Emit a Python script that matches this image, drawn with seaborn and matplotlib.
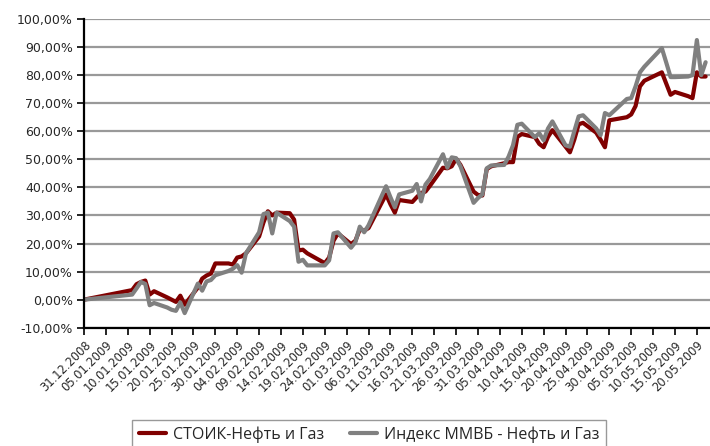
import pandas as pd
import numpy as np
import matplotlib
matplotlib.use("Agg")
import matplotlib.pyplot as plt
import matplotlib.ticker as mticker
import seaborn as sns

# data (cumulative return, %)
dates = ["31.12.2008",
         "11.01.2009", "12.01.2009", "13.01.2009", "14.01.2009", "15.01.2009", "16.01.2009",
         "19.01.2009", "20.01.2009", "21.01.2009", "22.01.2009", "23.01.2009",
         "26.01.2009", "27.01.2009", "28.01.2009", "29.01.2009", "30.01.2009",
         "02.02.2009", "03.02.2009", "04.02.2009", "05.02.2009", "06.02.2009",
         "09.02.2009", "10.02.2009", "11.02.2009", "12.02.2009", "13.02.2009",
         "16.02.2009", "17.02.2009", "18.02.2009", "19.02.2009", "20.02.2009",
         "24.02.2009", "25.02.2009", "26.02.2009", "27.02.2009",
         "02.03.2009", "03.03.2009", "04.03.2009", "05.03.2009", "06.03.2009",
         "10.03.2009", "11.03.2009", "12.03.2009", "13.03.2009",
         "16.03.2009", "17.03.2009", "18.03.2009", "19.03.2009", "20.03.2009",
         "23.03.2009", "24.03.2009", "25.03.2009", "26.03.2009", "27.03.2009",
         "30.03.2009", "31.03.2009", "01.04.2009", "02.04.2009", "03.04.2009",
         "06.04.2009", "07.04.2009", "08.04.2009", "09.04.2009", "10.04.2009",
         "13.04.2009", "14.04.2009", "15.04.2009", "16.04.2009", "17.04.2009",
         "20.04.2009", "21.04.2009", "22.04.2009", "23.04.2009", "24.04.2009",
         "27.04.2009", "28.04.2009", "29.04.2009", "30.04.2009",
         "04.05.2009", "05.05.2009", "06.05.2009", "07.05.2009", "08.05.2009",
         "12.05.2009", "13.05.2009", "14.05.2009", "15.05.2009",
         "18.05.2009", "19.05.2009", "20.05.2009", "21.05.2009", "22.05.2009"]

stoik = [0.0,
         3.4, 5.5, 6.3, 6.8, 1.8, 3.0,
         0.8, 0.0, -0.8, 1.4, -1.8,
         4.3, 7.5, 8.6, 9.3, 12.9,
         12.9, 12.5, 15.0, 15.4, 16.5,
         22.5, 27.5, 31.5, 30.0, 31.0,
         30.8, 28.5, 17.5, 17.8, 16.5,
         13.0, 15.0, 21.0, 23.6,
         19.8, 21.0, 25.0, 24.6, 25.5,
         37.5, 34.0, 31.0, 35.5,
         34.8, 36.5, 38.0, 38.5, 40.5,
         47.0, 46.8, 47.5, 50.2, 48.0,
         38.5, 37.3, 37.1, 46.5, 47.5,
         48.6, 49.0, 49.0, 58.0, 59.0,
         57.9, 55.5, 54.3, 58.0, 60.4,
         54.5, 52.5, 57.0, 62.5, 63.0,
         59.5, 57.0, 54.3, 63.9,
         65.0, 66.0, 69.0, 76.0, 78.0,
         81.0, 77.0, 73.0, 74.0,
         72.5, 71.8, 81.0, 79.5, 79.5]

micex = [0.0,
         1.8, 4.0, 6.3, 5.6, -2.0, -1.2,
         -2.8, -3.6, -4.0, -1.0, -4.8,
         5.7, 3.2, 6.5, 7.0, 8.7,
         10.2, 11.0, 12.3, 9.6, 16.5,
         24.0, 30.5, 31.0, 23.6, 31.0,
         28.0, 26.0, 13.5, 14.2, 12.2,
         12.2, 14.0, 23.6, 24.0,
         18.5, 20.5, 26.0, 24.0, 26.5,
         40.4, 36.5, 32.9, 37.5,
         38.8, 41.2, 35.0, 41.0, 43.0,
         51.8, 47.0, 50.7, 50.4, 47.5,
         34.5, 36.2, 37.5, 46.8, 47.8,
         48.0, 51.0, 55.0, 62.3, 62.7,
         57.9, 59.3, 56.8, 61.0, 63.5,
         55.0, 54.5, 60.0, 65.3, 65.7,
         61.0, 58.6, 66.5, 65.7,
         71.5, 71.8, 76.0, 81.0, 83.0,
         89.6, 84.5, 79.3, 79.3,
         79.5, 80.0, 92.5, 80.0, 84.6]

series_names = ["СТОИК-Нефть и Газ", "Индекс ММВБ - Нефть и Газ"]
RED = "#800000"
GREY = "#808080"

df = pd.DataFrame({"Date": pd.to_datetime(dates, format="%d.%m.%Y"),
                   series_names[0]: stoik,
                   series_names[1]: micex})
long = df.melt(id_vars="Date", var_name="Series", value_name="Return")

sns.set_theme(style="white")
plt.rcParams["font.family"] = ["DejaVu Sans"]

fig = plt.figure(figsize=(7.10, 4.46), dpi=100)
ax = fig.add_axes([84 / 710, 1 - 327.7 / 446, 626 / 710, (327.7 - 19) / 446])

sns.lineplot(data=long, x="Date", y="Return", hue="Series",
             palette={series_names[0]: RED, series_names[1]: GREY},
             linewidth=3.0, ax=ax, legend=False)

ax.set_ylim(-10, 100)
ax.set_xlim(pd.Timestamp("2008-12-31"), pd.Timestamp("2009-05-23"))
ax.yaxis.set_major_locator(mticker.MultipleLocator(10))
ax.yaxis.set_major_formatter(mticker.FuncFormatter(lambda v, _: f"{v:.2f}%".replace(".", ",")))
ticks = pd.date_range("2008-12-31", "2009-05-20", freq="5D")
ax.set_xticks(ticks)
ax.set_xticklabels([t.strftime("%d.%m.%Y") for t in ticks], rotation=45,
                   ha="right", rotation_mode="anchor", fontsize=8.3)
ax.tick_params(axis="y", labelsize=9, length=5, width=1.2, color="black",
               direction="out", left=True, pad=3)
ax.tick_params(axis="x", length=5, width=1.2, color="black", direction="out",
               bottom=True, pad=3)
ax.grid(axis="y", color="#999999", linewidth=1.6)
ax.set_axisbelow(True)
for s in ["top", "right"]:
    ax.spines[s].set_visible(False)
for s in ["left", "bottom"]:
    ax.spines[s].set_color("black")
    ax.spines[s].set_linewidth(1.6)
ax.set_xlabel("")
ax.set_ylabel("")

handles = [plt.Line2D([], [], color=RED, linewidth=3.0),
           plt.Line2D([], [], color=GREY, linewidth=3.0)]
leg = fig.legend(handles, series_names, ncol=2, loc="upper center",
                 bbox_to_anchor=(369 / 710, 1 - 420 / 446), borderaxespad=0,
                 frameon=True, fancybox=False, edgecolor=GREY, borderpad=0.4,
                 columnspacing=1.6, handlelength=1.7, handletextpad=0.45,
                 prop={"family": ["Open Sans", "DejaVu Sans"], "size": 11.5})
leg.get_frame().set_linewidth(1.0)

fig.savefig("out.png", dpi=100)
